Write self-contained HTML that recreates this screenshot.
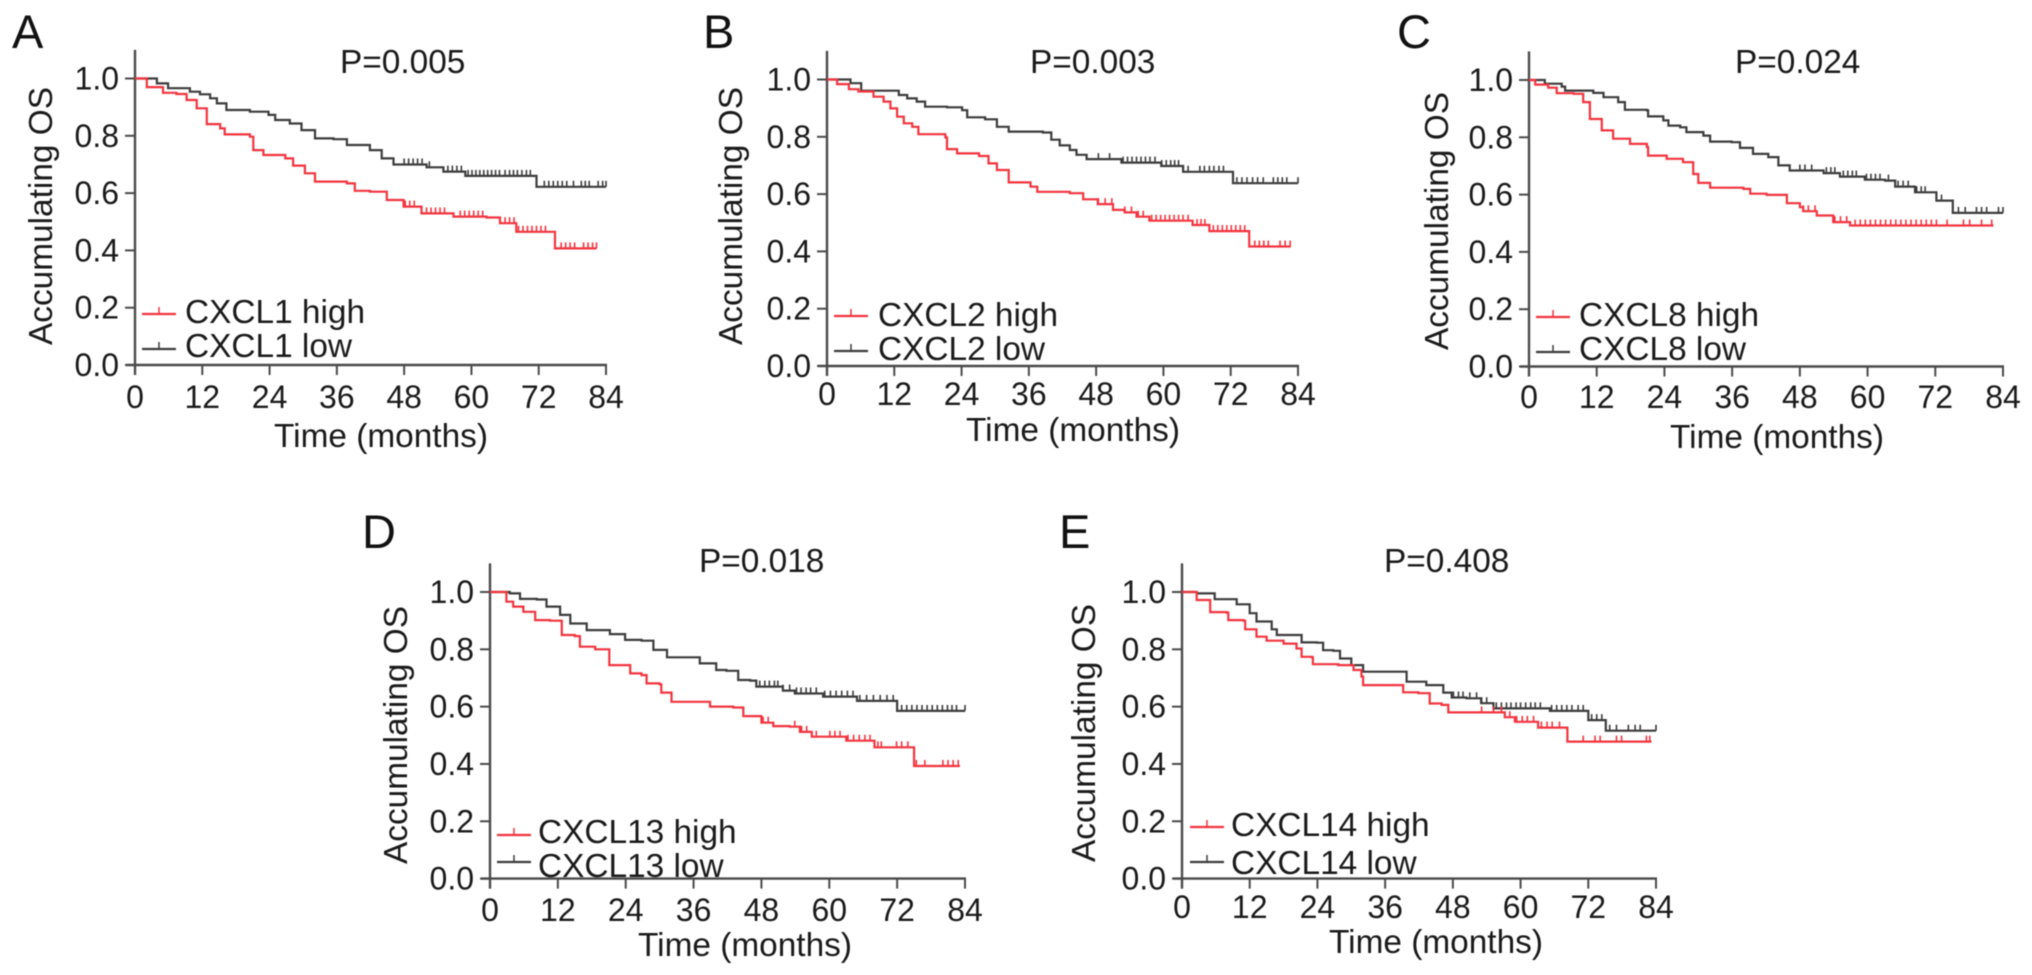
<!DOCTYPE html>
<html lang="en">
<head>
<meta charset="utf-8">
<title>Kaplan-Meier overall survival curves by CXCL expression</title>
<style>
html,body{margin:0;padding:0;background:#fff;width:2032px;height:975px;overflow:hidden}
svg{display:block;filter:blur(0.55px)}
text{font-family:"Liberation Sans",Arial,sans-serif;fill:#1a1a1a;font-size:33.4px}
.letter{font-size:47px;fill:#111}
.tick-label{font-size:32px}
</style>
</head>
<body>
<svg id="figure" xmlns="http://www.w3.org/2000/svg" width="2032" height="975" viewBox="0 0 2032 975">
  <rect width="2032" height="975" fill="#fff"/>

  <g id="panel-a">
    <text class="letter" x="12" y="48">A</text>
    <text x="340" y="73">P=0.005</text>
    <text transform="translate(52,216) rotate(-90)" text-anchor="middle">Accumulating OS</text>
    <text x="381" y="447" text-anchor="middle">Time (months)</text>
    <text x="185" y="323">CXCL1 high</text>
    <text x="185" y="357">CXCL1 low</text>
  </g>
  <g id="panel-b">
    <text class="letter" x="703" y="48">B</text>
    <text x="1030" y="73">P=0.003</text>
    <text transform="translate(742,216) rotate(-90)" text-anchor="middle">Accumulating OS</text>
    <text x="1073" y="441" text-anchor="middle">Time (months)</text>
    <text x="878" y="326">CXCL2 high</text>
    <text x="878" y="360">CXCL2 low</text>
  </g>
  <g id="panel-c">
    <text class="letter" x="1397" y="48">C</text>
    <text x="1735" y="73">P=0.024</text>
    <text transform="translate(1448,221) rotate(-90)" text-anchor="middle">Accumulating OS</text>
    <text x="1777" y="448" text-anchor="middle">Time (months)</text>
    <text x="1579" y="326">CXCL8 high</text>
    <text x="1579" y="360">CXCL8 low</text>
  </g>
  <g id="panel-d">
    <text class="letter" x="362" y="548">D</text>
    <text x="699" y="572">P=0.018</text>
    <text transform="translate(407,735) rotate(-90)" text-anchor="middle">Accumulating OS</text>
    <text x="745" y="956" text-anchor="middle">Time (months)</text>
    <text x="538" y="843">CXCL13 high</text>
    <text x="538" y="877">CXCL13 low</text>
  </g>
  <g id="panel-e">
    <text class="letter" x="1059" y="548">E</text>
    <text x="1384" y="572">P=0.408</text>
    <text transform="translate(1095,733) rotate(-90)" text-anchor="middle">Accumulating OS</text>
    <text x="1436" y="953" text-anchor="middle">Time (months)</text>
    <text x="1231" y="836">CXCL14 high</text>
    <text x="1231" y="874">CXCL14 low</text>
  </g>
</svg>

<script>
const xTickLabels = [0, 12, 24, 36, 48, 60, 72, 84];
const yTickLabels = ['0.0', '0.2', '0.4', '0.6', '0.8', '1.0'];
const yAxisMax = 1.1;
const xAxisMax = 84;

const aLowMonths = [0,2.7,3.9,5.9,9.8,11.6,13.4,14.6,16.3,20.5,23.8,25,27.6,29.7,32.1,35.4,37.8,41.9,44,46.1,52,55,58.9,71.6,84];
const aLowSurvival = [1,1,.983,.966,.954,.945,.931,.913,.89,.884,.873,.855,.843,.82,.791,.788,.768,.75,.721,.70,.69,.675,.66,.622,.622];
const aLowCensored = [48,48.8,49.6,50.4,51.2,52.5,55.8,56.6,57.4,58.2,59.4,60.1,60.8,61.5,62.2,62.9,63.6,64.3,65,66,66.8,67.5,68.2,69,69.8,70.5,73,73.8,74.6,75.4,76.2,77,78.2,79.6,80.3,81,82.6,83.4,84];
const aHighMonths = [0,2.1,5,7.4,9.2,11,12.8,15.2,16,20.5,21.1,22.9,26.8,28.2,30.3,32.1,37.8,39.2,41.9,44.9,47.9,51.1,56.8,62.7,65.1,68,74.9,82.3];
const aHighSurvival = [1,.97,.95,.946,.925,.896,.841,.826,.805,.797,.75,.733,.721,.696,.669,.64,.634,.608,.605,.576,.553,.529,.518,.515,.495,.465,.407,.407];
const aHighCensored = [48.2,49,49.8,52,52.8,53.6,54.4,55.2,58,58.8,59.6,60.4,61.2,62,66,66.8,67.6,68.4,69.2,70,70.8,71.6,72.4,73.2,76,76.8,77.6,78.4,80,80.8,81.6,82.3];

const bLowMonths = [0,3,4.2,6.1,10.1,12.8,14.3,16,17.5,21.4,24.1,25,28.2,30.3,32.4,38.5,40,41.5,43.3,44.5,46.3,52.5,59.6,63.5,72.4,84];
const bLowSurvival = [1,1,.987,.961,.961,.946,.934,.923,.905,.903,.893,.868,.861,.835,.818,.815,.79,.77,.754,.737,.722,.71,.698,.678,.638,.638];
const bLowCensored = [48.4,50.4,52.8,53.6,54.4,55.2,56,56.8,57.6,58.5,59.7,60.5,61.3,62,62.7,64.4,66.5,67.3,68.2,69,69.9,70.7,73.1,74,74.9,75.9,76.8,77.8,79.6,80.4,81.2,82,84];
const bHighMonths = [0,1.8,3.9,5.6,8.3,10.1,11.3,12.5,13.7,15.2,16.3,21.1,21.4,23.2,27.1,28.8,30.3,32.4,36.3,37.5,43.3,45.7,48.3,51,53.1,55.2,57.5,65.2,68.2,75.3,82.7];
const bHighSurvival = [1,.984,.966,.958,.94,.923,.899,.87,.847,.835,.809,.798,.757,.742,.733,.707,.684,.641,.626,.608,.603,.582,.565,.545,.536,.521,.507,.492,.471,.417,.417];
const bHighCensored = [48.4,49.6,50.8,53.1,54.3,55.5,56.4,57.9,58.7,59.5,60.3,61.1,61.9,62.7,63.5,64.4,66,66.7,67.4,68.9,69.7,70.5,71.3,72.1,72.9,73.7,74.5,76.3,77.1,77.9,78.7,80.8,81.7,82.6];

const cLowMonths = [0,1.4,2.8,5.8,6.4,11.4,13.2,15.8,17,20.9,21.1,23.8,24.7,26.8,27.9,30.9,32.1,35.9,37.4,39.7,42.4,44.2,46.2,52.2,55.1,59.5,63.1,64.9,68.4,72.2,75.1,84];
const cLowSurvival = [1,1,.987,.977,.963,.955,.94,.923,.896,.894,.873,.859,.841,.835,.818,.806,.785,.783,.763,.742,.731,.702,.684,.675,.663,.652,.649,.628,.608,.579,.536,.536];
const cLowCensored = [48,48.9,50.1,52.7,53.5,54.2,55.7,56.5,57.3,58,59.8,60.6,61.4,62.2,63.7,65.4,66.3,67.2,68.7,69.5,70.2,73.1,76.1,77.3,79.3,80.2,81.1,83.2,84];
const cHighMonths = [0,1.1,3.4,4.9,7.9,9.6,10.8,12.9,14.9,17.9,20.9,21.1,24.4,27.3,29.1,30,32.1,38,39.2,42.1,45.7,48,48.6,51,53.9,56.9,82.3];
const cHighSurvival = [1,.984,.973,.954,.952,.923,.864,.824,.795,.777,.766,.736,.725,.713,.672,.641,.624,.62,.603,.599,.57,.556,.542,.527,.504,.492,.492];
const cHighCensored = [48.6,49.5,50.7,54.2,55.2,56.3,57.8,58.7,59.6,60.5,61.4,62.3,63.2,64.1,65,65.9,66.8,67.7,68.6,69.5,70.4,71.3,72.2,74.1,77,78.1,80.2,82];

const dLowMonths = [0,3.5,5.3,8.3,10,12.4,14.2,17.1,21.2,23.9,26.8,28.9,31.3,37.1,40,41.8,43.9,46,47.1,51.8,53.9,58.9,64.9,72,84];
const dLowSurvival = [1,.995,.976,.974,.949,.92,.89,.867,.853,.833,.83,.798,.772,.751,.728,.725,.693,.691,.67,.656,.646,.635,.62,.585,.585];
const dLowCensored = [47.7,48.6,49.4,50.3,50.9,51.8,53,54.2,55,55.9,56.7,57.7,59.2,60.2,61.2,62.2,63.2,64.2,65.4,66.6,67.8,69,70.2,71.3,72.8,73.7,74.6,75.5,76.4,77.3,78.2,79.1,80,80.9,81.7,82.5,84];
const dHighMonths = [0,2.9,4.1,5.9,8,10.6,12.7,15,15.9,18.6,21.1,24.8,26.8,27.7,30,30.3,32.1,37.7,38.9,43,44.8,48,50.1,53,54.8,56.9,62.5,63,68,75,83.1];
const dHighSurvival = [1,.966,.949,.931,.902,.9,.85,.846,.809,.8,.745,.716,.71,.681,.678,.649,.617,.617,.6,.597,.567,.544,.532,.53,.512,.495,.495,.481,.458,.393,.393];
const dHighCensored = [48.3,49.2,53.9,55.1,56,57.7,60.1,61,61.9,63.3,64.3,65.3,66.3,67.2,68.6,69.2,71.9,72.8,73.9,75.4,76.9,80.1,81,81.9,82.8];

const eLowMonths = [0,2.6,5.8,9.7,12,13.2,15.9,16.8,21.2,23.9,25,26.8,28,30,32.1,36,39.8,43.3,46.3,47.8,50.4,53,55.2,65.2,72,75.1,84];
const eLowSurvival = [1,.995,.975,.957,.926,.897,.87,.85,.824,.823,.797,.795,.768,.745,.722,.722,.687,.675,.649,.632,.629,.612,.594,.585,.553,.516,.516];
const eLowCensored = [48.1,49,49.8,51,52.2,53.1,54,55.7,56.6,57.5,58.3,59.2,60,60.9,61.8,62.6,63.5,65.5,66.4,67.3,68.2,69.1,70.2,71.1,72.6,73.5,74.4,75.8,77,79.1,80.3,81.2,84];
const eHighMonths = [0,2.6,5,7.9,8.2,10.9,11.2,13.2,15,18,20.3,21.2,23,23.2,27.7,30.4,31.8,32.1,37.7,39.2,41.9,43.9,46,47.2,56.6,57.2,59,62.8,63.1,68.3,83.2];
const eHighSurvival = [1,.972,.93,.928,.902,.9,.87,.844,.83,.82,.803,.774,.772,.748,.745,.728,.705,.675,.675,.65,.647,.611,.606,.58,.58,.563,.547,.547,.527,.478,.478];
const eHighCensored = [53.1,55.2,56.6,58.1,59.3,60.3,61.2,62.3,63.7,64.7,65.6,66.9,71.1,73.2,74.1,77,77.9,82.3,82.9];

const panelSeries = {
  a: { low: [aLowMonths, aLowSurvival, aLowCensored], high: [aHighMonths, aHighSurvival, aHighCensored] },
  b: { low: [bLowMonths, bLowSurvival, bLowCensored], high: [bHighMonths, bHighSurvival, bHighCensored] },
  c: { low: [cLowMonths, cLowSurvival, cLowCensored], high: [cHighMonths, cHighSurvival, cHighCensored] },
  d: { low: [dLowMonths, dLowSurvival, dLowCensored], high: [dHighMonths, dHighSurvival, dHighCensored] },
  e: { low: [eLowMonths, eLowSurvival, eLowCensored], high: [eHighMonths, eHighSurvival, eHighCensored] }
};

const panelLayout = {
  a: { left: 135, right: 606, bottom: 365, height: 286.5, tickBase: 408, legX: 142, legHigh: 314, legLow: 349 },
  b: { left: 827, right: 1298, bottom: 366, height: 286.5, tickBase: 405, legX: 834, legHigh: 316, legLow: 351 },
  c: { left: 1529, right: 2003, bottom: 366.5, height: 286.5, tickBase: 408, legX: 1536, legHigh: 317, legLow: 352 },
  d: { left: 490, right: 965, bottom: 878.6, height: 286.6, tickBase: 921, legX: 497, legHigh: 835, legLow: 862 },
  e: { left: 1182, right: 1656, bottom: 878.6, height: 286.6, tickBase: 918, legX: 1190, legHigh: 827, legLow: 862 }
};

const SVG_NS = 'http://www.w3.org/2000/svg';
const AXIS_COLOR = '#4a4a4a';
const HIGH_COLOR = '#f2343f';
const LOW_COLOR = '#3c3c3c';

function makeLine(parent, x1, y1, x2, y2, color, width) {
  const line = document.createElementNS(SVG_NS, 'line');
  line.setAttribute('x1', x1);
  line.setAttribute('y1', y1);
  line.setAttribute('x2', x2);
  line.setAttribute('y2', y2);
  line.setAttribute('stroke', color);
  line.setAttribute('stroke-width', width);
  parent.appendChild(line);
  return line;
}

function survivalAt(months, survival, month) {
  let value = survival[0];
  for (let i = 0; i < months.length; i++) {
    if (months[i] <= month) value = survival[i];
  }
  return value;
}

function drawSeries(group, id, level, series, color, xScale, yScale) {
  const months = series[0];
  const survival = series[1];
  const censored = series[2];
  let d = 'M' + xScale(0) + ' ' + yScale(1);
  for (let i = 0; i < months.length; i++) {
    d += 'H' + xScale(months[i]).toFixed(1) + 'V' + yScale(survival[i]).toFixed(1);
  }
  const curve = document.createElementNS(SVG_NS, 'path');
  curve.setAttribute('d', d);
  curve.setAttribute('fill', 'none');
  curve.setAttribute('stroke', color);
  curve.setAttribute('stroke-width', '2.2');
  
  
  group.appendChild(curve);
  censored.forEach(function (month) {
    const y = yScale(survivalAt(months, survival, month));
    const mark = makeLine(group, xScale(month), y, xScale(month), y - 6, color, 1.6);
    
    
  });
}

Object.keys(panelLayout).forEach(function (id) {
  const p = panelLayout[id];
  const group = document.getElementById('panel-' + id);
  const xScale = function (m) { return p.left + (p.right - p.left) * m / xAxisMax; };
  const yScale = function (s) { return p.bottom - p.height * s; };

  const yAxis = makeLine(group, p.left, yScale(yAxisMax), p.left, p.bottom + 10, AXIS_COLOR, 2.4);
  
  
  const xAxis = makeLine(group, p.left - 9, p.bottom, p.right + 1, p.bottom, AXIS_COLOR, 2.4);
  
  

  yTickLabels.forEach(function (label) {
    const y = yScale(parseFloat(label));
    const tick = makeLine(group, p.left - 10, y, p.left, y, AXIS_COLOR, 2);
    
    
    const text = document.createElementNS(SVG_NS, 'text');
    text.setAttribute('x', p.left - 16);
    text.setAttribute('y', y + 11);
    text.setAttribute('text-anchor', 'end');
    text.setAttribute('class', 'tick-label');
    
    
    text.textContent = label;
    group.appendChild(text);
  });

  xTickLabels.forEach(function (label) {
    const x = xScale(label);
    const tick = makeLine(group, x, p.bottom, x, p.bottom + 10, AXIS_COLOR, 2);
    
    
    const text = document.createElementNS(SVG_NS, 'text');
    text.setAttribute('x', x);
    text.setAttribute('y', p.tickBase);
    text.setAttribute('text-anchor', 'middle');
    text.setAttribute('class', 'tick-label');
    
    
    text.textContent = label;
    group.appendChild(text);
  });

  drawSeries(group, id, 'low', panelSeries[id].low, LOW_COLOR, xScale, yScale);
  drawSeries(group, id, 'high', panelSeries[id].high, HIGH_COLOR, xScale, yScale);

  [[p.legHigh, HIGH_COLOR, 'high'], [p.legLow, LOW_COLOR, 'low']].forEach(function (entry) {
    const swatch = makeLine(group, p.legX, entry[0], p.legX + 34, entry[0], entry[1], 2.2);
    
    
    const mark = makeLine(group, p.legX + 17, entry[0], p.legX + 17, entry[0] - 7, entry[1], 1.5);
    
    
  });
});
</script>
</body>
</html>
